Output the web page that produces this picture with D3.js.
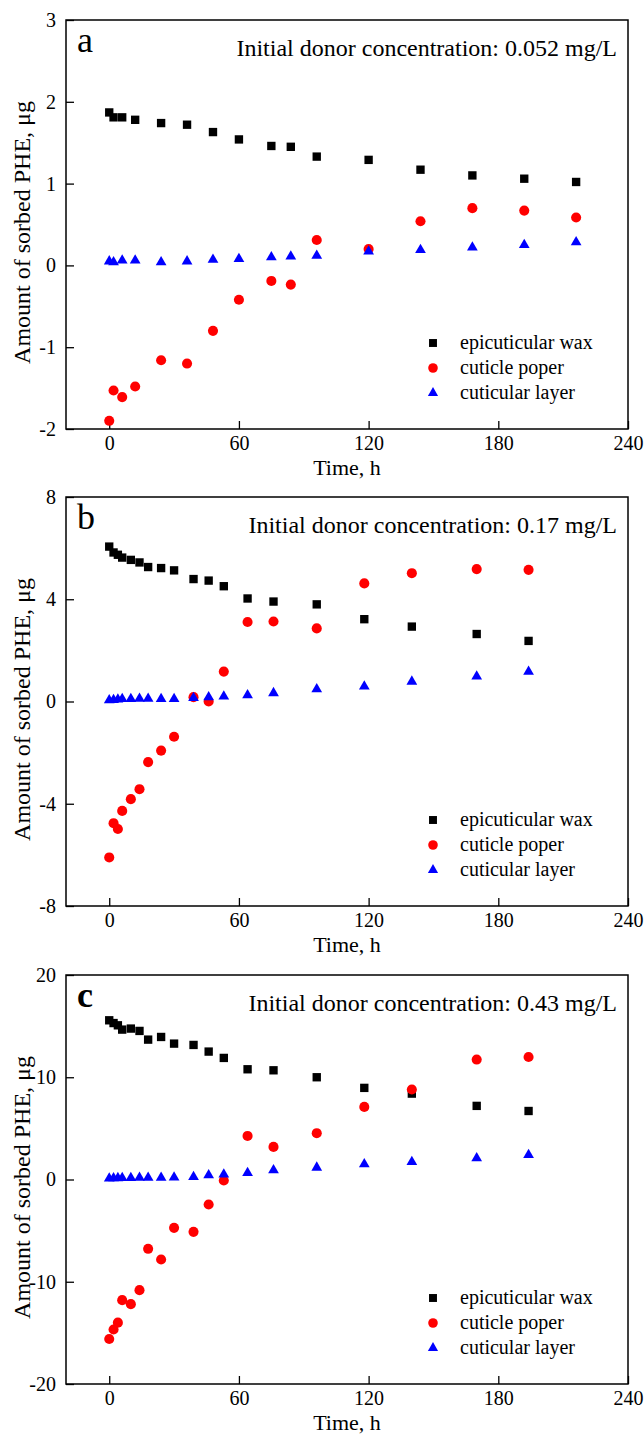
<!DOCTYPE html>
<html>
<head>
<meta charset="utf-8">
<script src="https://cdn.jsdelivr.net/npm/d3@7"></script>
<style>
body{margin:0;background:#fff;}
text{font-family:"Liberation Serif","Times New Roman",serif;fill:#000;}
</style>
</head>
<body>
<div id="chart"></div>
<script>
// set SVG dimension
var svgWidth=644;
var svgHeight=1435;

// sampling times (h)
var timeA=[0,2,6,12,24,36,48,60,75,84,96,120,144,168,192,216];
var timeBC=[0,2,4,6,10,14,18,24,30,39,46,53,64,76,96,118,140,170,194];

// panel a: 0.052 mg/L
var waxA=[1.87,1.81,1.81,1.78,1.74,1.72,1.63,1.54,1.46,1.45,1.33,1.29,1.17,1.10,1.06,1.02];
var poperA=[-1.90,-1.53,-1.61,-1.48,-1.16,-1.20,-0.80,-0.42,-0.19,-0.235,0.31,0.20,0.54,0.70,0.67,0.585];
var layerA=[0.05,0.04,0.06,0.06,0.04,0.05,0.07,0.08,0.10,0.11,0.12,0.17,0.19,0.22,0.25,0.285];

// panel b: 0.17 mg/L
var waxB=[6.06,5.83,5.74,5.63,5.54,5.44,5.26,5.22,5.13,4.79,4.73,4.51,4.03,3.91,3.80,3.22,2.93,2.64,2.37];
var poperB=[-6.10,-4.76,-4.99,-4.28,-3.82,-3.43,-2.37,-1.92,-1.38,0.17,0.0,1.17,3.11,3.13,2.86,4.62,5.02,5.18,5.15];
var layerB=[0.05,0.06,0.08,0.10,0.10,0.11,0.11,0.10,0.10,0.14,0.17,0.20,0.25,0.33,0.48,0.59,0.78,0.98,1.17];

// panel c: 0.43 mg/L
var waxC=[15.57,15.3,15.08,14.66,14.76,14.53,13.68,13.94,13.29,13.16,12.51,11.89,10.78,10.68,10.0,8.96,8.4,7.2,6.7];
var poperC=[-15.6,-14.67,-14.0,-11.8,-12.19,-10.82,-6.78,-7.82,-4.73,-5.12,-2.45,-0.1,4.26,3.19,4.53,7.1,8.8,11.73,11.98];
var layerC=[0.10,0.12,0.14,0.15,0.16,0.17,0.18,0.18,0.20,0.26,0.42,0.50,0.65,0.91,1.17,1.5,1.72,2.08,2.4];

// axis ticks
var xTicks=[0,60,120,180,240];
var yTicksA=[-2,-1,0,1,2,3];
var yTicksB=[-8,-4,0,4,8];
var yTicksC=[-20,-10,0,10,20];

// legend labels
var seriesNames=["epicuticular wax","cuticle poper","cuticular layer"];

// create svg container
var svg=d3.select("#chart")
.append("svg")
.attr("width",svgWidth)
.attr("height",svgHeight);

// panel layout
var plotLeft=66;
var plotRight=628;
var plotHeight=409;

// marker styles
var markerStyle=[
    {type:d3.symbolSquare,size:70,color:"#000000"},
    {type:d3.symbolCircle,size:80,color:"#ff0000"},
    {type:d3.symbolTriangle,size:50,color:"#0000ff"}
];

// plain hyphen for negatives, like the original
var tickFmt=d=>String(d);

function drawPanel(top,letter,bold,concText,times,series,yTicks){
    var g=svg.append("g")
    .attr("transform",`translate(0,${top})`);

    // create scales
    var xScale=d3.scaleLinear()
    .domain([-20,240])
    .range([plotLeft,plotRight]);
    var yScale=d3.scaleLinear()
    .domain([yTicks[0],yTicks[yTicks.length-1]])
    .range([plotHeight,0]);

    // x axis (ticks pointing inward)
    var bottomAxis=d3.axisBottom(xScale)
    .tickValues(xTicks)
    .tickSize(-8)
    .tickPadding(7)
    .tickFormat(tickFmt);
    var xAxis=g.append("g")
    .attr("transform",`translate(0,${plotHeight})`)
    .call(bottomAxis);

    // y axis (ticks pointing inward)
    var leftAxis=d3.axisLeft(yScale)
    .tickValues(yTicks)
    .tickSize(-8)
    .tickPadding(10)
    .tickFormat(tickFmt);
    var yAxis=g.append("g")
    .attr("transform",`translate(${plotLeft},0)`)
    .call(leftAxis);

    [xAxis,yAxis].forEach(function(ax){
        ax.select(".domain").remove();
        ax.selectAll("line").attr("stroke","#000").attr("stroke-width",1.3);
        ax.selectAll("text")
        .style("font-family","'Liberation Serif',serif")
        .attr("font-size","20px");
    });

    // frame
    g.append("rect")
    .attr("x",plotLeft)
    .attr("y",0)
    .attr("width",plotRight-plotLeft)
    .attr("height",plotHeight)
    .attr("fill","none")
    .attr("stroke","#000")
    .attr("stroke-width",1.5);

    // points
    series.forEach(function(values,i){
        var st=markerStyle[i];
        g.append("g")
        .selectAll("path")
        .data(values)
        .enter()
        .append("path")
        .attr("d",d3.symbol().type(st.type).size(st.size))
        .attr("transform",(d,j)=>`translate(${xScale(times[j])},${yScale(d)})`)
        .attr("fill",st.color);
    });

    // panel letter
    g.append("text")
    .attr("x",plotLeft+11)
    .attr("y",32)
    .attr("font-size","36px")
    .attr("font-weight",bold?"bold":"normal")
    .text(letter);

    // concentration note
    g.append("text")
    .attr("x",plotRight-11)
    .attr("y",36)
    .attr("text-anchor","end")
    .attr("font-size","24px")
    .text(concText);

    // legend
    var legend=g.append("g")
    .attr("transform",`translate(433,323)`);
    seriesNames.forEach(function(name,i){
        var st=markerStyle[i];
        legend.append("path")
        .attr("d",d3.symbol().type(st.type).size(st.size*0.9))
        .attr("transform",`translate(0,${i*25})`)
        .attr("fill",st.color);
        legend.append("text")
        .attr("x",27)
        .attr("y",i*25+6)
        .attr("font-size","20px")
        .text(name);
    });

    // x axis label
    g.append("text")
    .attr("x",(plotLeft+plotRight)/2)
    .attr("y",plotHeight+46)
    .attr("text-anchor","middle")
    .attr("font-size","22px")
    .text("Time, h");

    // y axis label
    g.append("text")
    .attr("transform",`translate(30,${plotHeight/2+8}) rotate(-90)`)
    .attr("text-anchor","middle")
    .attr("font-size","24px")
    .text("Amount of sorbed PHE, μg");
}

drawPanel(20,"a",false,"Initial donor concentration: 0.052 mg/L",timeA,[waxA,poperA,layerA],yTicksA);
drawPanel(497,"b",false,"Initial donor concentration: 0.17 mg/L",timeBC,[waxB,poperB,layerB],yTicksB);
drawPanel(975,"c",true,"Initial donor concentration: 0.43 mg/L",timeBC,[waxC,poperC,layerC],yTicksC);
</script>
</body>
</html>
